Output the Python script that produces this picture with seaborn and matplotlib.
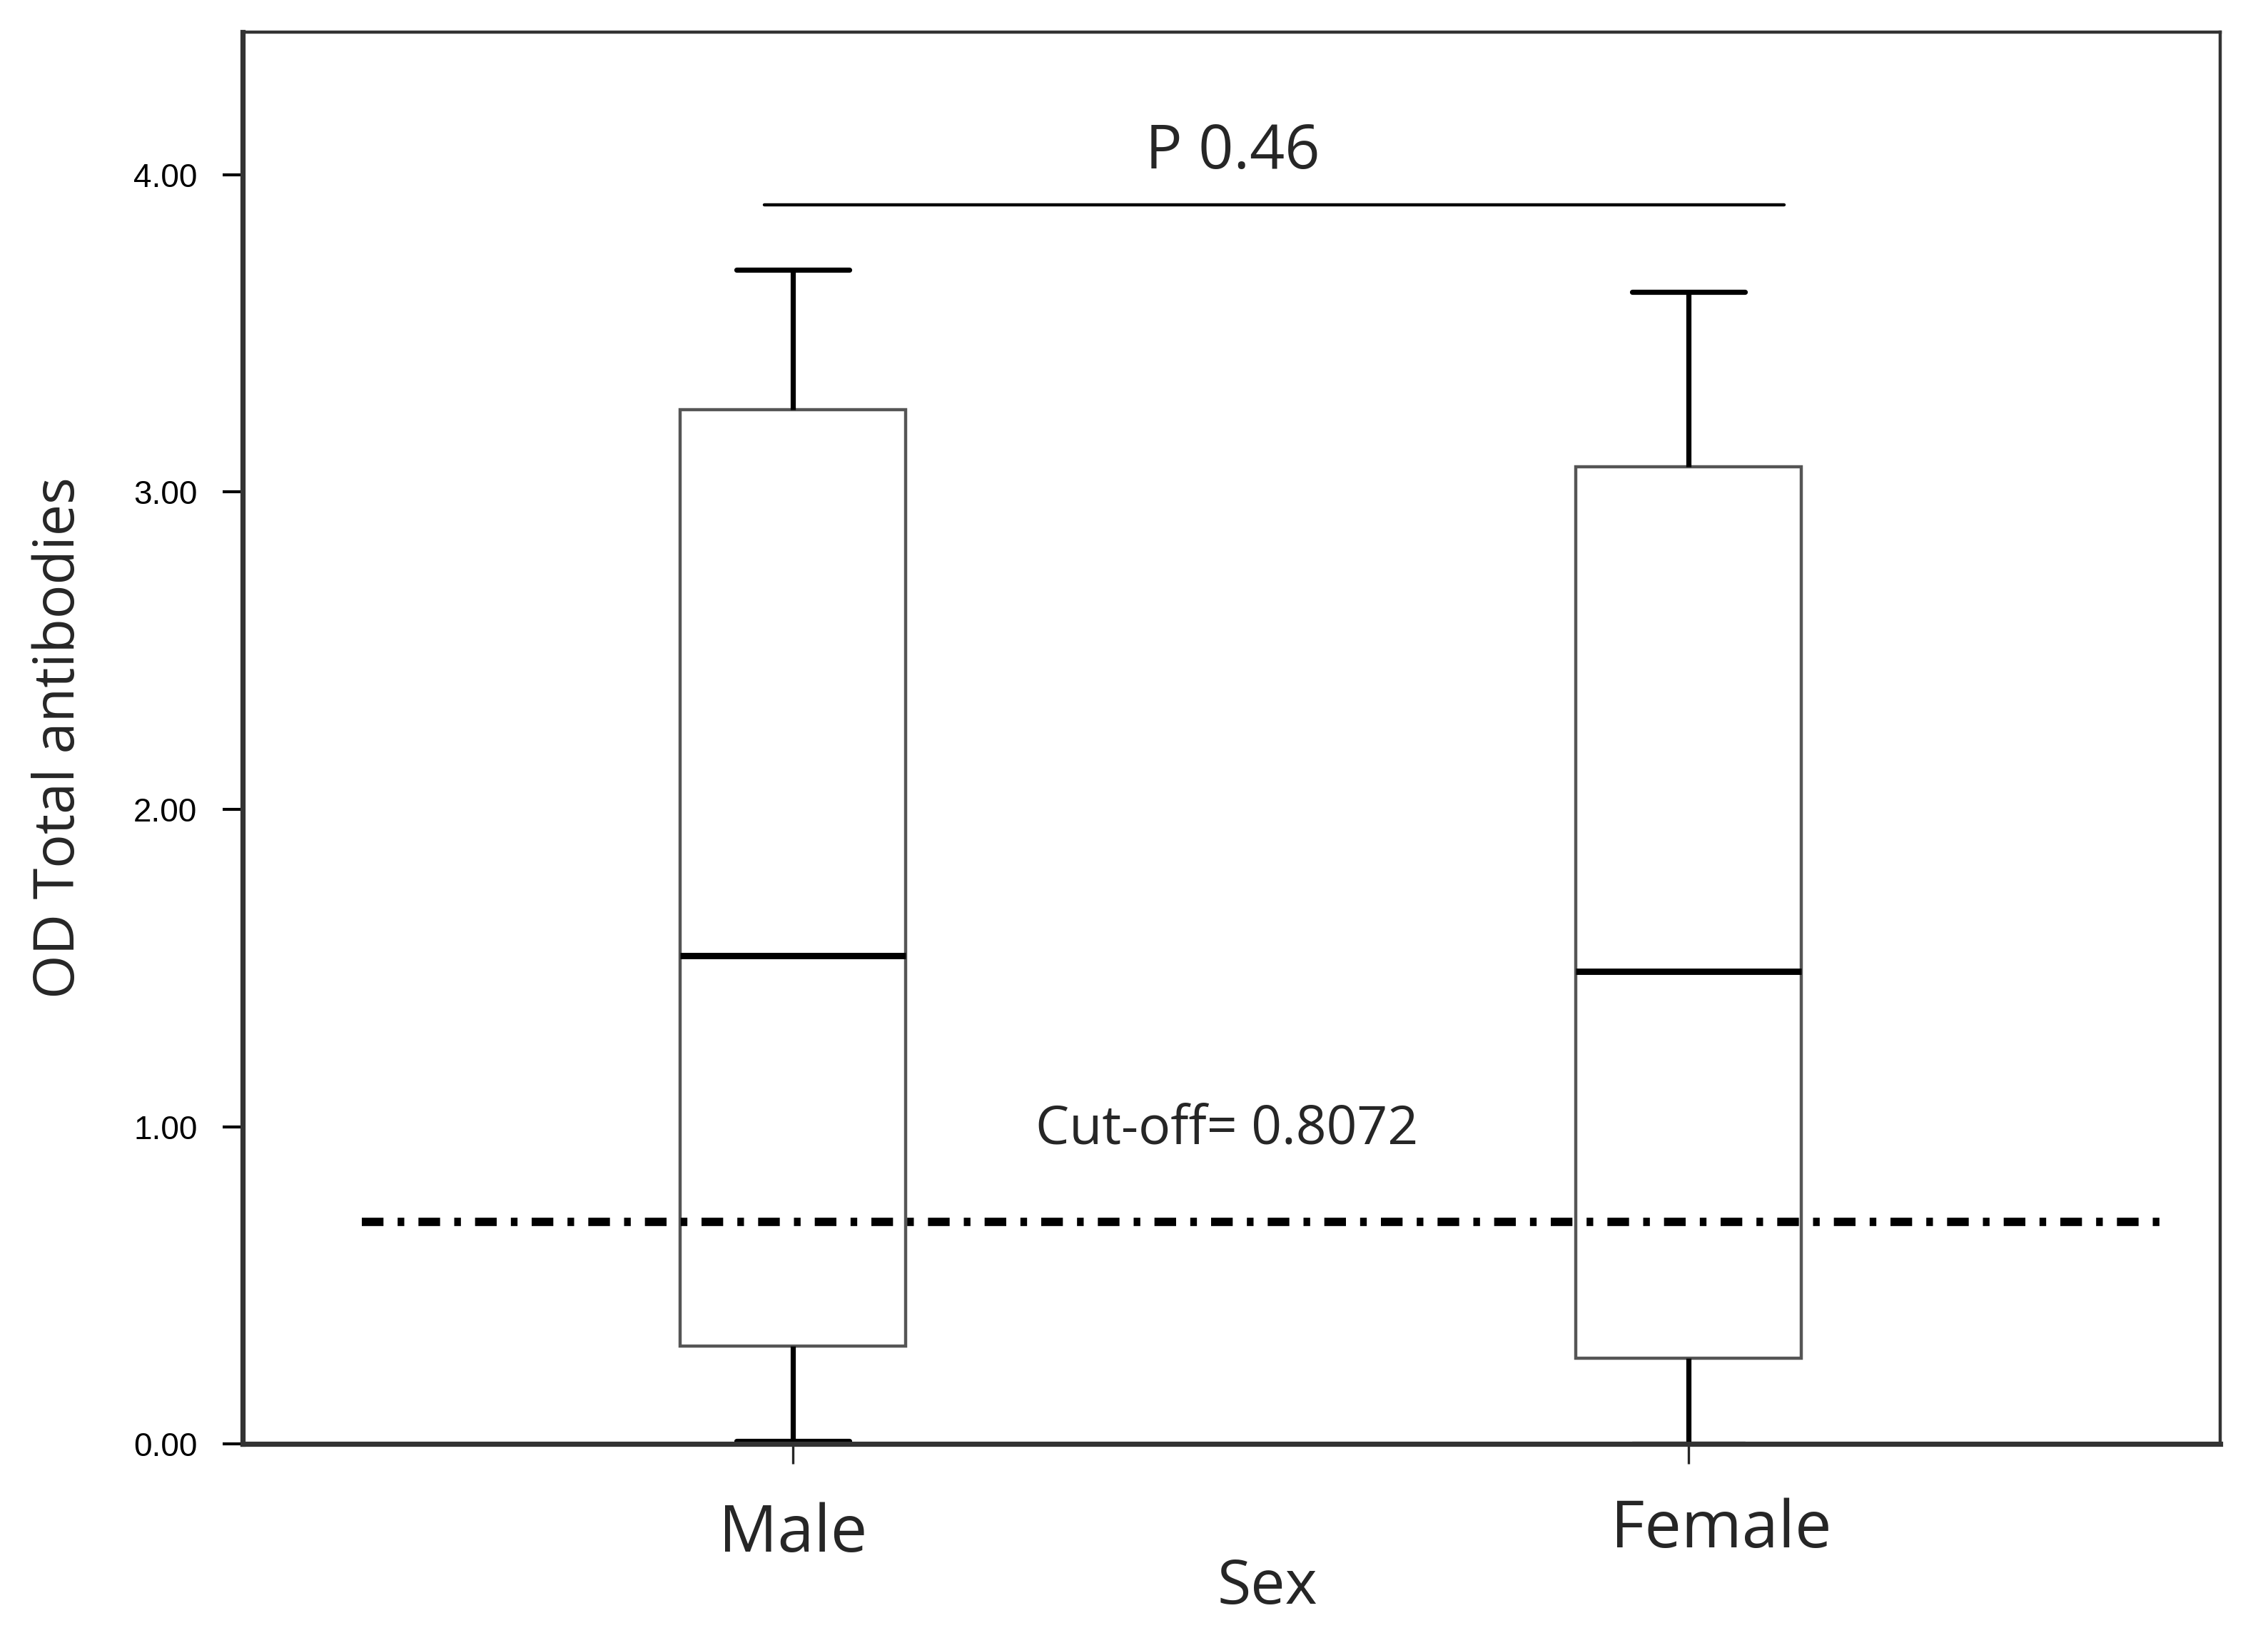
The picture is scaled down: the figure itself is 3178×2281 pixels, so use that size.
import numpy as np
import pandas as pd
import seaborn as sns
import matplotlib
matplotlib.use('Agg')
import matplotlib.pyplot as plt
from matplotlib.transforms import ScaledTranslation

# five-number summaries (min, Q1, median, Q3, max)
sex_groups = ["Male", "Female"]
male_vals = [0.01, 0.31, 1.54, 3.26, 3.70]
female_vals = [0.00, 0.27, 1.49, 3.08, 3.63]
cutoff_line = 0.70
cutoff_text = "Cut-off= 0.8072"
p_text = "P 0.46"
y_ticks = [0.0, 1.0, 2.0, 3.0, 4.0]

df = pd.DataFrame({
    "Sex": ["Male"] * len(male_vals) + ["Female"] * len(female_vals),
    "OD": male_vals + female_vals,
})

sns.set_style("white")
plt.rcParams['font.family'] = ['Open Sans', 'DejaVu Sans']

fig = plt.figure(figsize=(15.89, 11.405), dpi=200)
ax = fig.add_axes([0.1071, 0.1129, 0.8719, 0.8675])

sns.boxplot(data=df, x="Sex", y="OD", order=sex_groups, whis=(0, 100), width=0.252,
            color="white", linewidth=1.6, ax=ax,
            boxprops=dict(facecolor="white", edgecolor="#555555", linewidth=1.6),
            whiskerprops=dict(color="black", linewidth=2.6),
            capprops=dict(color="black", linewidth=2.6),
            medianprops=dict(color="black", linewidth=3.2),
            showfliers=False)

ax.set_xlim(-0.614, 1.594)
ax.set_ylim(0, 4.45)

# cut-off line
ax.plot([-0.481, 1.538], [cutoff_line, cutoff_line], color="black", lw=4.2,
        dashes=(2.6, 1.7, 0.8, 1.7), dash_capstyle="butt", zorder=5)
ax.text(0.485, 0.99, cutoff_text, ha="center", va="center", fontsize=27)

# significance bar
ax.plot([-0.032, 1.107], [3.904, 3.904], color="black", lw=1.6)
ax.text(0.491, 4.07, p_text, ha="center", va="center", fontsize=31)

ax.set_yticks(y_ticks)
ax.set_yticklabels([f"{v:.2f}" for v in y_ticks], fontsize=16.5, family="Liberation Sans")
ax.tick_params(axis="y", direction="out", length=10, width=1.5, pad=13, left=True, colors="black")
ax.tick_params(axis="x", direction="out", length=10, width=1.2, pad=19, bottom=True,
               labelsize=33)

# the Female label sits a little right of its box in the original
lbls = ax.get_xticklabels()
lbls[1].set_transform(lbls[1].get_transform() + ScaledTranslation(0.23, 0.03, fig.dpi_scale_trans))

ax.set_xlabel("Sex", fontsize=31, labelpad=-5, x=0.518)
ax.set_ylabel("OD Total antibodies", fontsize=28.5, labelpad=23)

for side in ["top", "right"]:
    ax.spines[side].set_linewidth(1.6)
    ax.spines[side].set_color("#333333")
for side in ["left", "bottom"]:
    ax.spines[side].set_linewidth(2.6)
    ax.spines[side].set_color("#333333")

fig.savefig("out.png", dpi=200, facecolor="white")
